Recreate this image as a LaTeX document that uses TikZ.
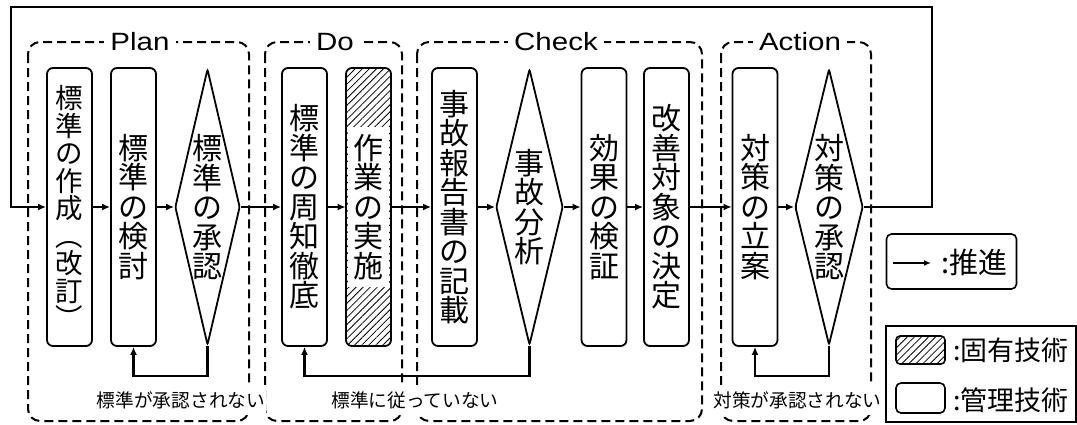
\documentclass[tikz,border=0pt]{standalone}
\usepackage{fontspec}
\setmainfont{Liberation Sans}
\newfontfamily\jp{Noto Sans CJK JP}
\newfontfamily\grp{Liberation Sans}[FakeStretch=1.18]
\usetikzlibrary{arrows.meta,shapes.geometric,patterns.meta}
\newcommand\vtfont{\jp\fontsize{30}{29.5}\selectfont}
\begin{document}
\begin{tikzpicture}[x=1pt,y=-1pt,
 box/.style={draw,line width=1.8pt,rounded corners=6pt,minimum width=45pt,minimum height=278pt,inner sep=0pt,align=center,font=\vtfont},
 kite/.style={draw,shape=diamond,line width=1.8pt,rounded corners=2pt,minimum height=276pt,inner sep=0pt},
 vtext/.style={align=center,font=\vtfont,inner sep=0pt},
 grpbox/.style={draw,dash pattern=on 9pt off 5pt,line width=2pt,rounded corners=12pt},
 grplabel/.style={fill=white,font=\grp\fontsize{25}{25}\selectfont,inner xsep=6pt,inner ysep=1pt},
 fblabel/.style={fill=white,font=\jp\fontsize{18.7}{20}\selectfont,inner xsep=1pt,inner ysep=6pt},
 arr/.style={line width=2.2pt,-{Latex[length=8pt,width=7pt]}},
 hatch/.style={pattern={Lines[angle=45,distance=5pt,line width=0.8pt]}},
 legtext/.style={anchor=west,inner sep=0pt}
]
\useasboundingbox (0,0) rectangle (1077,424);

% group frames
\draw[grpbox] (28,42) rectangle (249,421);
\draw[grpbox] (265,42) rectangle (402,421);
\draw[grpbox] (417,42) rectangle (702,421);
\draw[grpbox] (721,42) rectangle (871,421);
\node[grplabel] (gP) at (140,42) {Plan};
\node[grplabel] (gD) at (335,42) {Do};
\node[grplabel] (gC) at (556,42) {Check};
\node[grplabel] (gA) at (800,42) {Action};

% Plan
\node[box,font=\jp\fontsize{27.5}{27.5}\selectfont] (p1) at (69.5,207) {標\\準\\の\\作\\成\\︵\\改\\訂\\︶};
\node[box] (p2) at (133.5,207) {標\\準\\の\\検\\討};
\node[kite,minimum width=65pt] (pd) at (207.5,207) {};
\node[vtext] (pdt) at (pd) {標\\準\\の\\承\\認};

% Do
\node[box] (d1) at (304.5,207) {標\\準\\の\\周\\知\\徹\\底};
\node[box,hatch] (d2) at (368.5,207) {};
\node[vtext,fill=white,minimum width=41pt,minimum height=160pt] (d2t) at (d2) {作\\業\\の\\実\\施};

% Check
\node[box] (c1) at (454.5,207) {事\\故\\報\\告\\書\\の\\記\\載};
\node[kite,minimum width=67pt] (cd) at (529.5,207) {};
\node[vtext] (cdt) at (cd) {事\\故\\分\\析};
\node[box] (c2) at (604,207) {効\\果\\の\\検\\証};
\node[box] (c3) at (666.5,207) {改\\善\\対\\象\\の\\決\\定};

% Action
\node[box] (a1) at (755,207) {対\\策\\の\\立\\案};
\node[kite,minimum width=68pt] (ad) at (829,207) {};
\node[vtext] (adt) at (ad) {対\\策\\の\\承\\認};

% main flow
\draw[arr] (p1) -- (p2);
\draw[arr] (p2) -- (pd);
\draw[arr] (pd) -- (d1);
\draw[arr] (d1) -- (d2);
\draw[arr] (d2) -- (c1);
\draw[arr] (c1) -- (cd);
\draw[arr] (cd) -- (c2);
\draw[arr] (c2) -- (c3);
\draw[arr] (c3) -- (a1);
\draw[arr] (a1) -- (ad);

% outer loop
\coordinate (loopR) at (932,7);
\coordinate (loopL) at (11,7);
\draw[arr] (ad.east) -| (loopR) -- (loopL) |- (p1.west);

% feedback loops
\draw[arr] (pd.south) -- ++(0,30) -| (p2.south);
\draw[arr] (cd.south) -- ++(0,30) -| (d1.south);
\draw[arr] (ad.south) -- ++(0,30) -| (a1.south);
\node[fblabel] (f1) at (181,400) {標準が承認されない};
\node[fblabel] (f2) at (415,400) {標準に従っていない};
\node[fblabel] (f3) at (797.5,400) {対策が承認されない};

% legend 1
\node[draw,line width=1.6pt,rounded corners=5pt,minimum width=130pt,minimum height=55pt,inner sep=0pt] (leg1) at (951.5,261.5) {};
\coordinate (la1) at (893,263);
\coordinate (la2) at (931,263);
\draw[line width=1.8pt,-{Latex[length=7pt,width=6pt]}] (la1) -- (la2);
\node[legtext,font=\jp\fontsize{29}{29}\selectfont] (lt1) at (941,262) {:推進};

% legend 2
\draw[line width=1.2pt] (886,326) rectangle (1076,422);
\node[draw,hatch,rounded corners=4pt,line width=1.6pt,minimum width=49pt,minimum height=28pt,inner sep=0pt] (sw1) at (920.5,350) {};
\node[draw,rounded corners=5pt,line width=1.6pt,minimum width=49pt,minimum height=30pt,inner sep=0pt] (sw2) at (920.5,398) {};
\node[legtext,font=\jp\fontsize{27}{27}\selectfont] (lt2) at (953,350) {:固有技術};
\node[legtext,font=\jp\fontsize{27}{27}\selectfont] (lt3) at (953,400) {:管理技術};
\end{tikzpicture}
\end{document}
